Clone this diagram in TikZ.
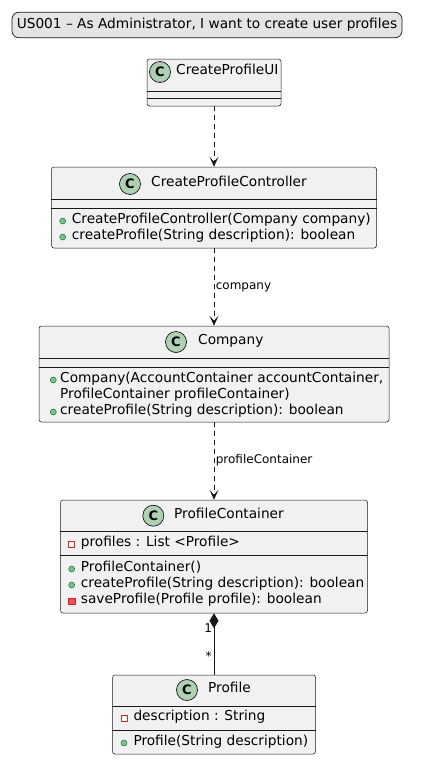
\documentclass[tikz,border=0pt]{standalone}
\usepackage{fontspec}
\setmainfont{DejaVu Sans}
\usetikzlibrary{arrows.meta}
\definecolor{boxfill}{HTML}{F1F1F1}
\definecolor{boxline}{HTML}{181818}
\definecolor{cfill}{HTML}{ADD1B2}
\definecolor{pubfill}{HTML}{84BE84}
\definecolor{publine}{HTML}{038048}
\definecolor{privline}{HTML}{C82930}
\definecolor{privfill}{HTML}{F24D5C}
\definecolor{titlefill}{HTML}{E4E4E4}
\tikzset{
  classbox/.style={draw=boxline, fill=boxfill, line width=0.5pt, rounded corners=2.5pt, inner sep=0pt},
  titlebox/.style={draw=boxline, fill=titlefill, line width=0.7pt, rounded corners=7pt, inner sep=0pt, minimum width=390pt, minimum height=25.5pt, font=\fontsize{13.7}{16}\selectfont},
  sepline/.style={draw=boxline, line width=0.5pt},
  cicon/.style={circle, draw=boxline, fill=cfill, line width=0.7pt, minimum size=21pt, inner sep=0pt, font=\bfseries\fontsize{13}{13}\selectfont},
  head/.style={anchor=mid west, inner sep=0pt, font=\fontsize{13.7}{16}\selectfont},
  member/.style={anchor=mid west, inner sep=0pt, font=\fontsize{13.7}{16}\selectfont},
  pub/.style={circle, draw=publine, fill=pubfill, line width=0.5pt, minimum size=6pt, inner sep=0pt},
  privf/.style={rectangle, draw=privline, fill=white, line width=0.8pt, minimum size=6pt, inner sep=0pt},
  privm/.style={rectangle, draw=privline, fill=privfill, line width=0.5pt, minimum size=6.5pt, inner sep=0pt},
  lbl/.style={inner sep=0pt, font=\fontsize{12}{14}\selectfont},
  dep/.style={draw=boxline, line width=0.7pt, dash pattern=on 5pt off 4pt, -{Stealth[length=10pt, width=9pt, inset=5pt]}},
  compo/.style={draw=boxline, line width=0.8pt, -{Diamond[length=15pt, width=9pt]}}
}
\begin{document}
\begin{tikzpicture}[x=1pt, y=-1pt]
    \useasboundingbox (0,0) rectangle (421,761);

    \node[titlebox] (title) at (207,25) {US001 – As Administrator, I want to create user profiles};

    \node[classbox, minimum width=134pt, minimum height=47pt] (ui) at (214,82.5) {};
    \draw[sepline] (ui.west |- 0,91) -- (ui.east |- 0,91)  (ui.west |- 0,98.5) -- (ui.east |- 0,98.5);
    \node[cicon] (uic) at (160,72) {C};
    \node[head] (uih) at (176,72) {CreateProfileUI};

    \node[classbox, minimum width=325pt, minimum height=81pt] (ctrl) at (214,207.5) {};
    \draw[sepline] (ctrl.west |- 0,199) -- (ctrl.east |- 0,199)  (ctrl.west |- 0,208) -- (ctrl.east |- 0,208);
    \node[cicon] (ctrlc) at (130,184) {C};
    \node[head] (ctrlh) at (151,184) {CreateProfileController};
    \node[pub] (ctrli1) at (62.7,221) {};
    \node[pub] (ctrli2) at (62.7,237) {};
    \node[member] (ctrlm1) at (71.7,221) {CreateProfileController(Company company)};
    \node[member] (ctrlm2) at (71.7,237) {createProfile(String description): boolean};

    \node[classbox, minimum width=350pt, minimum height=96pt] (comp) at (214,374) {};
    \draw[sepline] (comp.west |- 0,358) -- (comp.east |- 0,358)  (comp.west |- 0,367) -- (comp.east |- 0,367);
    \node[cicon] (compc) at (176,342) {C};
    \node[head] (comph) at (198,342) {Company};
    \node[pub] (compi1) at (53.3,380) {};
    \node[pub] (compi2) at (53.3,412) {};
    \node[member] (compm1) at (60,380) {Company(AccountContainer accountContainer,};
    \node[member] (compm2) at (60,396) {ProfileContainer profileContainer)};
    \node[member] (compm3) at (60,412) {createProfile(String description): boolean};

    \node[classbox, minimum width=307pt, minimum height=113pt] (pc) at (214,556.5) {};
    \draw[sepline] (pc.west |- 0,531.5) -- (pc.east |- 0,531.5)  (pc.west |- 0,555.5) -- (pc.east |- 0,555.5);
    \node[cicon] (pcc) at (153.3,515.7) {C};
    \node[head] (pch) at (174,515.7) {ProfileContainer};
    \node[privf] (pci1) at (71.7,544) {};
    \node[pub] (pci2) at (71.7,569) {};
    \node[pub] (pci3) at (71.7,585) {};
    \node[privm] (pci4) at (71.7,601) {};
    \node[member] (pca1) at (80.7,544) {profiles : List <Profile>};
    \node[member] (pcm1) at (80.7,569) {ProfileContainer()};
    \node[member] (pcm2) at (80.7,585) {createProfile(String description): boolean};
    \node[member] (pcm3) at (80.7,601) {saveProfile(Profile profile): boolean};

    \node[classbox, minimum width=203pt, minimum height=79pt] (prof) at (214,714.5) {};
    \draw[sepline] (prof.west |- 0,706.5) -- (prof.east |- 0,706.5)  (prof.west |- 0,730) -- (prof.east |- 0,730);
    \node[cicon] (profc) at (187,690) {C};
    \node[head] (profh) at (208,690) {Profile};
    \node[privf] (profi1) at (124,718) {};
    \node[pub] (profi2) at (124,743) {};
    \node[member] (profa1) at (133.3,718) {description : String};
    \node[member] (profm1) at (133.3,743) {Profile(String description)};

    \draw[dep] (ui.south) -- (ctrl.north);
    \draw[dep] (ctrl.south) -- node[lbl, anchor=mid west, xshift=1.5pt] (lblcompany) {company} (comp.north);
    \draw[dep] (comp.south) -- node[lbl, anchor=mid west, xshift=1.5pt] (lblpc) {profileContainer} (pc.north);
    \draw[compo] (prof.north) -- node[lbl, pos=0.28, anchor=mid east, xshift=-2pt] (multmany) {*} node[lbl, pos=0.73, anchor=mid east, xshift=-1.5pt] (multone) {1} (pc.south);
\end{tikzpicture}
\end{document}
